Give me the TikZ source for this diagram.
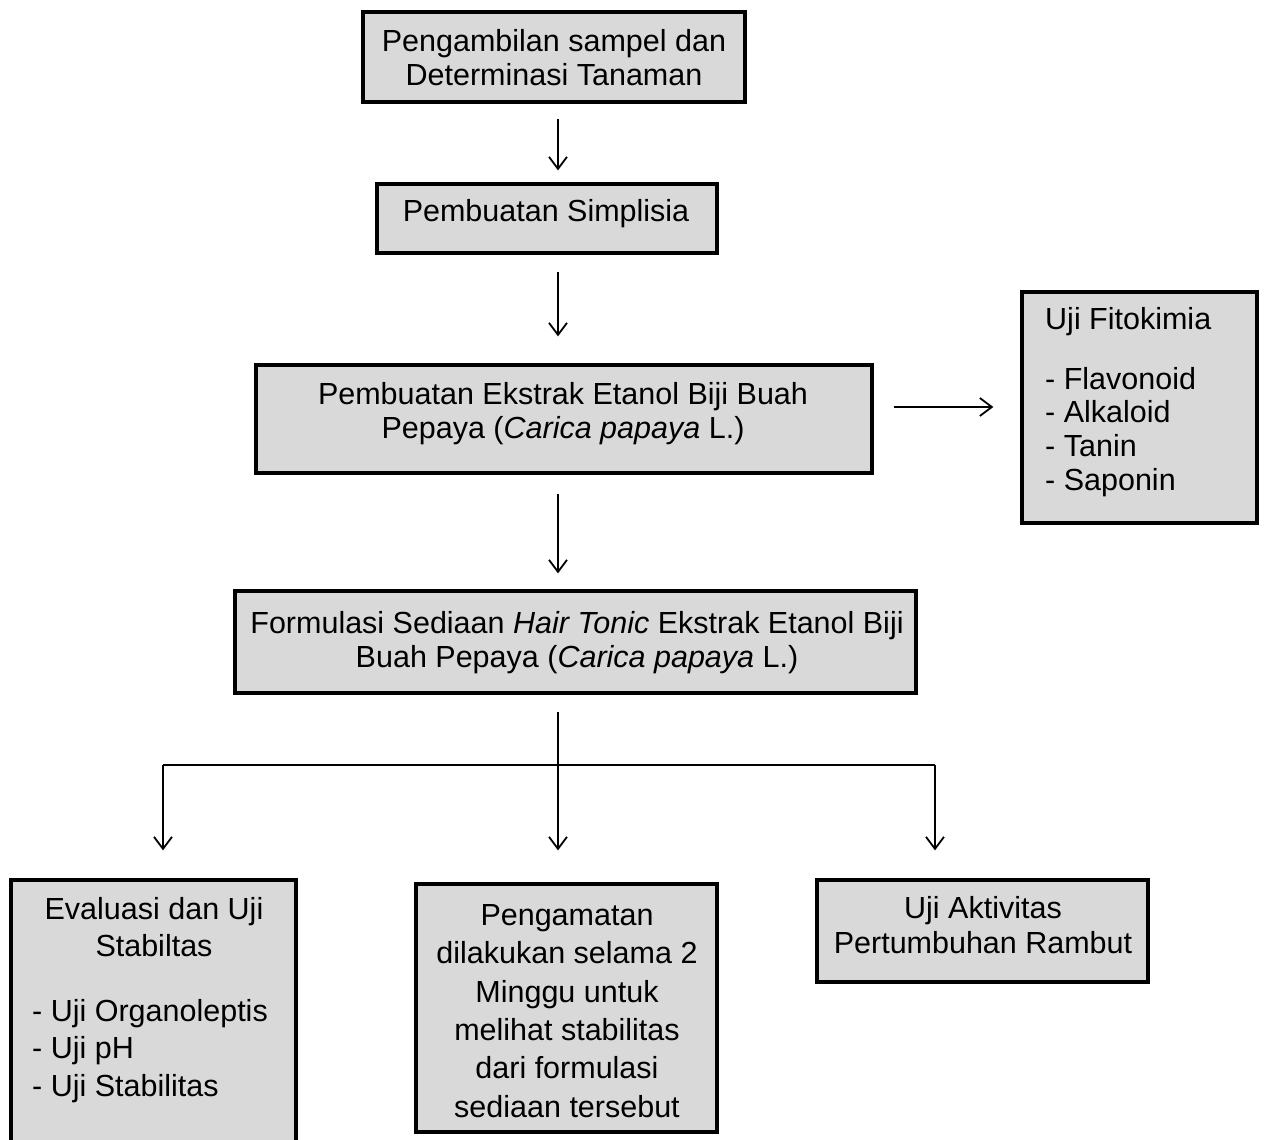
\documentclass[tikz,border=0pt]{standalone}
\usepackage{fontspec}
\setmainfont{Liberation Sans}
\usetikzlibrary{arrows.meta}
\definecolor{boxgray}{HTML}{D9D9D9}
\begin{document}
\begin{tikzpicture}[x=1pt,y=-1pt,
  box/.style={draw=black,line width=3.3pt,fill=boxgray,rectangle,inner sep=0pt},
  txt/.style={inner sep=0pt,font=\fontsize{30.5}{34}\selectfont,text=black},
  arr/.style={line width=1.8pt,-{Straight Barb[length=12pt,width=18pt,line width=1.8pt]}},
  ln/.style={line width=1.8pt}]
\useasboundingbox (0,0) rectangle (1264,1140);
\clip (0,0) rectangle (1264,1140);
% boxes
\node[box,minimum width=382pt,minimum height=90pt] (b1) at (554,57) {};
\node[box,minimum width=340pt,minimum height=69pt] (b2) at (547,218.5) {};
\node[box,minimum width=616pt,minimum height=108pt] (b3) at (564,419) {};
\node[box,minimum width=235pt,minimum height=231pt] (b5) at (1139.5,407.5) {};
\node[box,minimum width=681pt,minimum height=102pt] (b4) at (575.5,642) {};
\node[box,minimum width=285pt,minimum height=290pt] (bA) at (153.5,1025) {};
\node[box,minimum width=301pt,minimum height=248pt] (bB) at (566.5,1008) {};
\node[box,minimum width=331pt,minimum height=102pt] (bC) at (982.5,931) {};
% texts
\node[txt,align=center] (t1) at (554,57.5) {Pengambilan sampel dan\\Determinasi Tanaman};
\node[txt] (t2) at (546,214) {Pembuatan Simplisia};
\node[txt,align=center] (t3) at (563,414) {Pembuatan Ekstrak Etanol Biji Buah\\Pepaya (\textit{Carica papaya} L.)};
\node[txt,align=center] (t4) at (577,643) {Formulasi Sediaan \textit{Hair Tonic} Ekstrak Etanol Biji\\Buah Pepaya (\textit{Carica papaya} L.)};
\node[txt,align=left,anchor=west,font=\fontsize{30.5}{33.7}\selectfont] (t5) at (1045,402) {Uji Fitokimia\\[26pt]- Flavonoid\\- Alkaloid\\- Tanin\\- Saponin};
\node[txt,align=center,font=\fontsize{30.5}{37}\selectfont] (tA1) at (154,927) {Evaluasi dan Uji\\Stabiltas};
\node[txt,align=left,anchor=west,font=\fontsize{30.5}{37.5}\selectfont] (tA2) at (32,1051) {- Uji Organoleptis\\- Uji pH\\- Uji Stabilitas};
\node[txt,align=center,font=\fontsize{30.5}{38.4}\selectfont] (tB) at (567,1011) {Pengamatan\\dilakukan selama 2\\Minggu untuk\\melihat stabilitas\\dari formulasi\\sediaan tersebut};
\node[txt,align=center,font=\fontsize{30.5}{35}\selectfont] (tC) at (983,925) {Uji Aktivitas\\Pertumbuhan Rambut};
% connector coordinates
\coordinate (mx) at (558,0);
\coordinate (j) at (558,765);
\coordinate (jl) at (163,765);
\coordinate (jr) at (935,765);
% arrows
\draw[arr] ([yshift=-15pt]b1.south -| mx) -- ([yshift=12pt]b2.north -| mx);
\draw[arr] ([yshift=-17pt]b2.south -| mx) -- ([yshift=27pt]b3.north -| mx);
\draw[arr] ([xshift=20pt]b3.east |- 0,407) -- ([xshift=-27pt]b5.west |- 0,407);
\draw[arr] ([yshift=-19pt]b3.south -| mx) -- ([yshift=16pt]b4.north -| mx);
\draw[ln] ([yshift=-17pt]b4.south -| mx) -- (j);
\draw[ln] (jl) -- (jr);
\draw[arr] (j) -- ([yshift=32pt]bB.north -| j);
\draw[arr] (jl) -- ([yshift=28pt]bA.north -| jl);
\draw[arr] (jr) -- ([yshift=28pt]bC.north -| jr);
\end{tikzpicture}
\end{document}
